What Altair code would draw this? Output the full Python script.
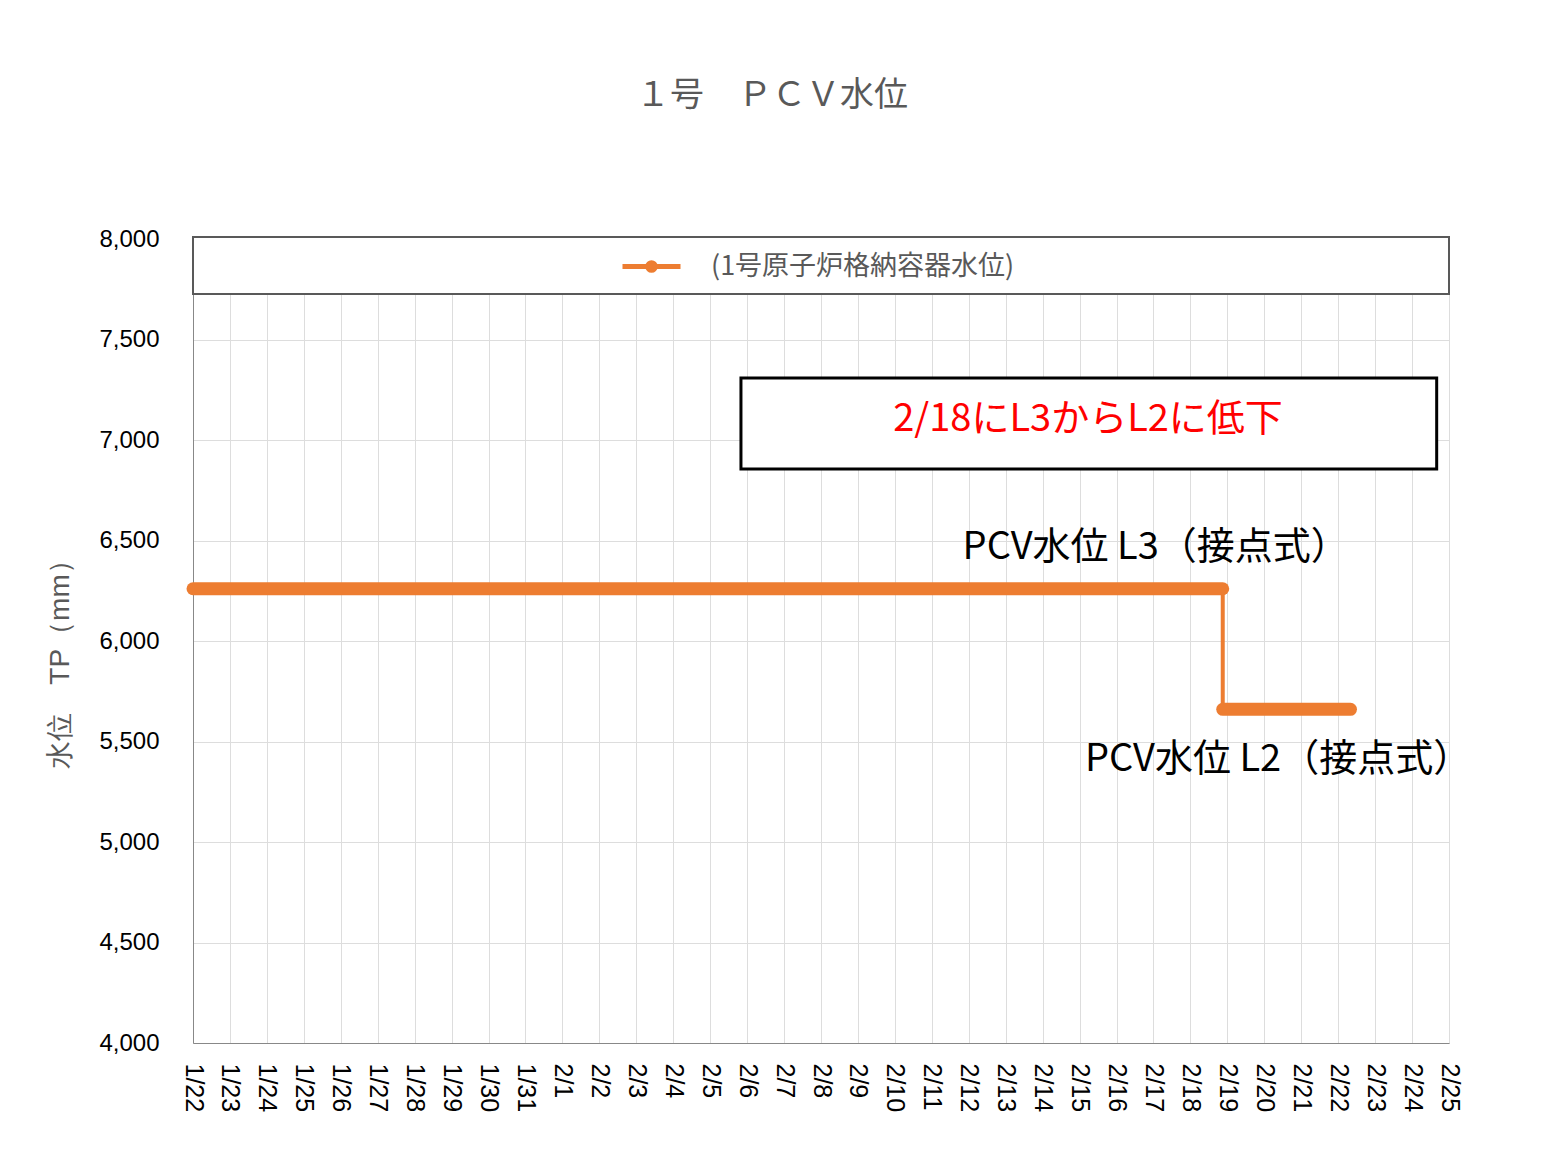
import json
import altair as alt
import pandas as pd

FONT = "Noto Sans CJK JP"

# x tick labels (one per day, starting 2023-01-22)
START = "2023-01-22"
day_labels = ["1/22", "1/23", "1/24", "1/25", "1/26", "1/27", "1/28", "1/29", "1/30", "1/31",
              "2/1", "2/2", "2/3", "2/4", "2/5", "2/6", "2/7", "2/8", "2/9", "2/10",
              "2/11", "2/12", "2/13", "2/14", "2/15", "2/16", "2/17", "2/18", "2/19", "2/20",
              "2/21", "2/22", "2/23", "2/24", "2/25"]
y_ticks = [4000, 4500, 5000, 5500, 6000, 6500, 7000, 7500, 8000]

series_name = "(1号原子炉格納容器水位)"

# thin connecting line (series)
line_times = ["2023-01-22T00:00:00", "2023-02-18T21:00:00", "2023-02-18T21:00:00", "2023-02-22T08:00:00"]
line_values = [6260, 6260, 5660, 5660]

# thick level bands (contact-type level signals)
seg_start = ["2023-01-22T00:00:00", "2023-02-18T21:00:00"]
seg_end = ["2023-02-18T21:00:00", "2023-02-22T08:00:00"]
seg_values = [6260, 5660]

# annotations
note_box_x = ["2023-02-05T20:00:00"]
note_box_x2 = ["2023-02-24T16:00:00"]
note_box_y = [6856]
note_box_y2 = [7308]
note_red_text = ["2/18にL3からL2に低下"]
note_red_x = ["2023-02-15T05:30:00"]
note_red_y = [7100]
level_texts = ["PCV水位 L3（接点式）", "PCV水位 L2（接点式）"]
level_text_x = ["2023-02-11T20:00:00", "2023-02-15T03:30:00"]
level_text_y = [6463, 5408]

W, H = 1256, 804
ORANGE = "#ed7d31"
GRAY = "#595959"


def day(ts):
    """days elapsed since START (fractional), so the x scale counts days."""
    return [(pd.Timestamp(t) - pd.Timestamp(START)) / pd.Timedelta(days=1) for t in ts]


label_expr = json.dumps(day_labels) + "[round(datum.value)]"
x_scale = alt.Scale(domain=[0, len(day_labels) - 1], nice=False, zero=False)
y_scale = alt.Scale(domain=[y_ticks[0], y_ticks[-1]], nice=False, zero=False)

x_axis = alt.Axis(values=list(range(len(day_labels))), tickCount=len(day_labels),
                  labelExpr=label_expr, labelAngle=90,
                  labelAlign="left", labelBaseline="middle", labelPadding=20, ticks=False,
                  tickSize=0, title=None, labelFontSize=25, labelOverlap=False,
                  labelFlush=False, labelBound=False)
y_axis = alt.Axis(values=y_ticks, tickCount=len(y_ticks), format=",d", ticks=False, tickSize=0,
                  labelPadding=34, labelFontSize=24, title="水位　TP（mm）", titleAngle=270,
                  titleX=-133, titleY=418, titleAlign="center", titleBaseline="middle",
                  titleFontSize=28, titleFontWeight="normal", titleColor=GRAY)

line_df = pd.DataFrame({"t": day(line_times), "v": line_values, "s": [series_name] * len(line_times)})
seg_df = pd.DataFrame({"t": day(seg_start), "t2": day(seg_end), "v": seg_values})
box_df = pd.DataFrame({"t": day(note_box_x), "t2": day(note_box_x2), "v": note_box_y, "v2": note_box_y2})
red_df = pd.DataFrame({"t": day(note_red_x), "v": note_red_y, "txt": note_red_text})
lvl_df = pd.DataFrame({"t": day(level_text_x), "v": level_text_y, "txt": level_texts})

legend_path = "M-1,0H1 M0.13,0A0.13,0.13,0,1,1,-0.13,0A0.13,0.13,0,1,1,0.13,0Z"

legend_bg = alt.Chart(pd.DataFrame({"a": [0]})).mark_rect(
    fill="white", stroke=GRAY, strokeWidth=2
).encode(x=alt.value(0), x2=alt.value(W), y=alt.value(-2), y2=alt.value(55))

thin = alt.Chart(line_df).mark_line(strokeWidth=4, strokeCap="round").encode(
    x=alt.X("t:Q", scale=x_scale, axis=x_axis),
    y=alt.Y("v:Q", scale=y_scale, axis=y_axis),
    color=alt.Color("s:N", scale=alt.Scale(domain=[series_name], range=[ORANGE]),
                    legend=alt.Legend(title=None, orient="none", legendX=427, legendY=-4,
                                      symbolType=legend_path, symbolSize=3364,
                                      symbolStrokeWidth=5, symbolFillColor=ORANGE,
                                      symbolStrokeColor=ORANGE,
                                      labelFontSize=27, labelColor=GRAY, labelFont=FONT,
                                      labelOffset=28, labelLimit=0, padding=0)),
)

thick = alt.Chart(seg_df).mark_rule(strokeWidth=13, strokeCap="round", color=ORANGE).encode(
    x="t:Q", x2="t2:Q", y="v:Q"
)

box = alt.Chart(box_df).mark_rect(fill="white", stroke="black", strokeWidth=3).encode(
    x="t:Q", x2="t2:Q", y="v:Q", y2="v2:Q"
)

red = alt.Chart(red_df).mark_text(color="#ff0000", fontSize=38, font=FONT, align="center",
                                  baseline="middle").encode(x="t:Q", y="v:Q", text="txt:N")

lvl = alt.Chart(lvl_df).mark_text(color="black", fontSize=38, font=FONT, align="left",
                                  baseline="middle").encode(x="t:Q", y="v:Q", text="txt:N")

chart = alt.layer(legend_bg, thin, thick, box, red, lvl).properties(
    width=W, height=H,
    title=alt.TitleParams("１号　ＰＣＶ水位", fontSize=34, font=FONT, color=GRAY,
                          fontWeight="normal", anchor="middle", dx=-49, offset=114),
    autosize=alt.AutoSizeParams(type="none"),
    padding={"left": 185, "top": 231, "right": 80, "bottom": 100},
).configure_axis(
    labelFont=FONT, labelColor=GRAY, titleFont=FONT, gridColor="#d9d9d9", gridWidth=1.3,
    domainColor="#bfbfbf", domainWidth=1.5, grid=True
).configure_view(stroke=None).configure(background="white")

chart.save("out.html", embed_options={"renderer": "svg", "actions": False})
